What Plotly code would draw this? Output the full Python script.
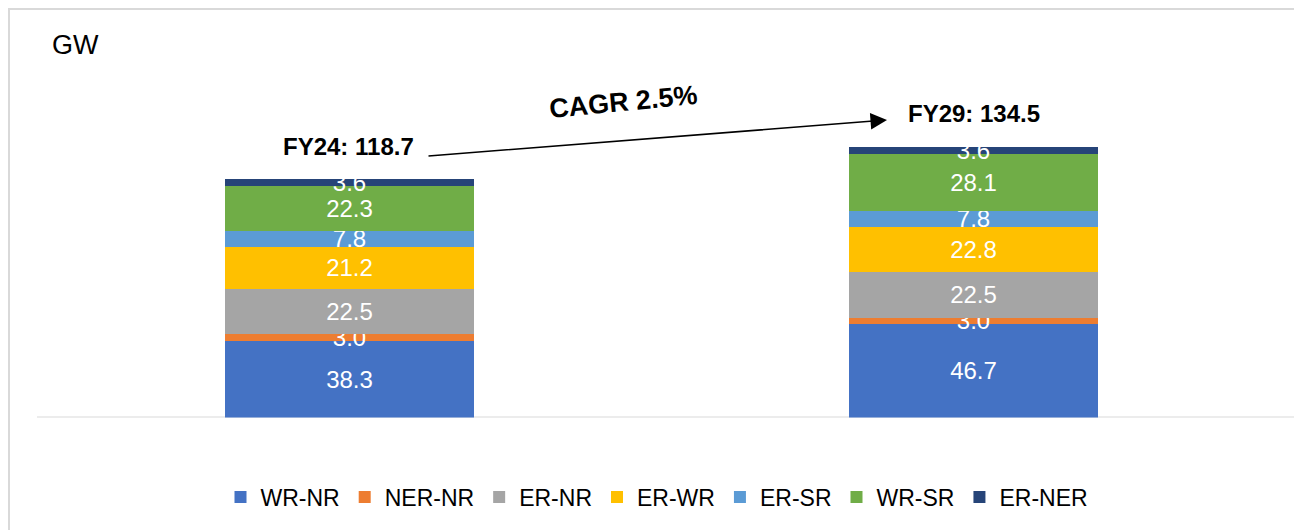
import plotly.graph_objects as go

years = ["FY24", "FY29"]
series_names = ["WR-NR", "NER-NR", "ER-NR", "ER-WR", "ER-SR", "WR-SR", "ER-NER"]
wr_nr = [38.3, 46.7]
ner_nr = [3.0, 3.0]
er_nr = [22.5, 22.5]
er_wr = [21.2, 22.8]
er_sr = [7.8, 7.8]
wr_sr = [22.3, 28.1]
er_ner = [3.6, 3.6]
totals = [118.7, 134.5]
cagr_label = "CAGR 2.5%"
unit_label = "GW"

series_values = [wr_nr, ner_nr, er_nr, er_wr, er_sr, wr_sr, er_ner]
colors = ["#4472C4", "#ED7D31", "#A5A5A5", "#FFC000", "#5B9BD5", "#70AD47", "#264478"]

# page body has an 8px margin; figure is placed at (8, 8)
OFF = 8
W, H = 1302 - OFF, 530 - OFF
FONT = "Liberation Sans, Arial, sans-serif"


def px(x):
    return (x - OFF) / W


def py(y):
    return (H - (y - OFF)) / H


fig = go.Figure()
for name, vals, col in zip(series_names, series_values, colors):
    fig.add_trace(go.Bar(
        x=years, y=vals, name=name,
        marker=dict(color=col, line=dict(width=0)),
        texttemplate="%{y:.1f}", textposition="inside",
        insidetextanchor="middle", textangle=0,
        textfont=dict(color="white", size=24, family=FONT),
        hoverinfo="skip",
    ))

# plot geometry (reference pixels)
x_left, x_right = 37.5, 1285.5
y_base, y_top = 417.5, 30.0
px_per_unit = 2.01
ymax = (y_base - y_top) / px_per_unit

fig.update_layout(
    width=W, height=H, autosize=False,
    margin=dict(l=0, r=0, t=0, b=0),
    paper_bgcolor="white", plot_bgcolor="white",
    barmode="stack", bargap=0.6,
    font=dict(family=FONT, color="black"),
    uniformtext=dict(minsize=24, mode="show"),
    xaxis=dict(domain=[px(x_left), px(x_right)], showticklabels=False,
               showline=False, showgrid=False, zeroline=False, ticks=""),
    yaxis=dict(domain=[py(y_base), py(y_top)], range=[0, ymax],
               showticklabels=False, showline=False, showgrid=False,
               zeroline=False, ticks=""),
    legend=dict(orientation="h", x=0.5 + 2 / W, xanchor="center", y=py(497),
                yanchor="middle", traceorder="normal",
                font=dict(size=23, family=FONT, color="black"),
                itemwidth=30),
    showlegend=True,
)

# border of chart area
fig.add_shape(type="line", xref="paper", yref="paper",
              x0=0, x1=1, y0=1 - 1 / H, y1=1 - 1 / H,
              line=dict(color="#D9D9D9", width=2))
fig.add_shape(type="line", xref="paper", yref="paper",
              x0=1 / W, x1=1 / W, y0=0, y1=1,
              line=dict(color="#D9D9D9", width=2))
# baseline
fig.add_shape(type="line", xref="paper", yref="y",
              x0=px(37), x1=1, y0=0, y1=0,
              line=dict(color="#D9D9D9", width=2), layer="below")

# unit label
fig.add_annotation(text=unit_label, xref="paper", yref="paper",
                   x=px(50), y=py(45), xanchor="left", yanchor="middle",
                   showarrow=False, font=dict(size=27, family=FONT, color="black"))

# totals
fig.add_annotation(text=f"<b>{years[0]}: {totals[0]}</b>", xref="paper", yref="paper",
                   x=px(348), y=py(146), xanchor="center", yanchor="middle",
                   showarrow=False, font=dict(size=24, family=FONT, color="black"))
fig.add_annotation(text=f"<b>{years[1]}: {totals[1]}</b>", xref="paper", yref="paper",
                   x=px(974), y=py(113), xanchor="center", yanchor="middle",
                   showarrow=False, font=dict(size=24, family=FONT, color="black"))

# arrow
fig.add_annotation(text="", xref="paper", yref="paper",
                   x=px(887), y=py(120), ax=427 - 887, ay=156 - 120,
                   showarrow=True, arrowhead=2, arrowsize=2.2, arrowwidth=1.5,
                   arrowcolor="black", standoff=0)

# CAGR label
fig.add_annotation(text=f"<b>{cagr_label}</b>", xref="paper", yref="paper",
                   x=px(623), y=py(102), xanchor="center", yanchor="middle",
                   textangle=-5.5, showarrow=False,
                   font=dict(size=27, family=FONT, color="black"))

fig.write_html("out.html")
